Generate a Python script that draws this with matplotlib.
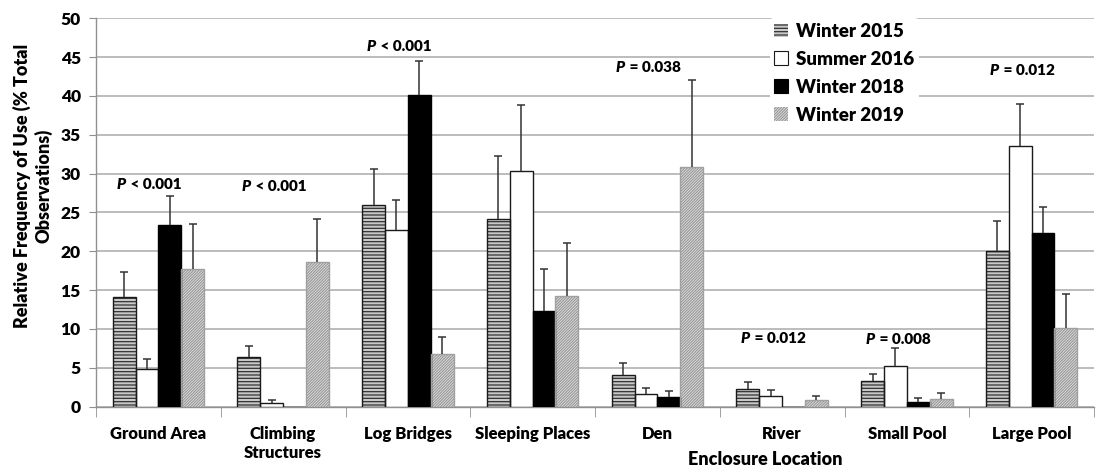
import matplotlib
matplotlib.use("Agg")
import matplotlib.pyplot as plt
from matplotlib.patches import Patch
import numpy as np

categories = ["Ground Area", "Climbing\nStructures", "Log Bridges", "Sleeping Places",
              "Den", "River", "Small Pool", "Large Pool"]
series = ["Winter 2015", "Summer 2016", "Winter 2018", "Winter 2019"]

winter2015 = [14.15, 6.33, 25.9, 24.1, 4.0, 2.3, 3.3, 20.0]
summer2016 = [4.83, 0.5, 22.7, 30.3, 1.6, 1.4, 5.2, 33.5]
winter2018 = [23.35, 0.0, 40.1, 12.35, 1.2, 0.0, 0.6, 22.4]
winter2019 = [17.7, 18.67, 6.7, 14.2, 30.8, 0.84, 0.97, 10.15]

err2015 = [3.15, 1.5, 4.7, 8.1, 1.55, 0.85, 0.9, 3.9]
err2016 = [1.27, 0.4, 3.9, 8.55, 0.8, 0.7, 2.3, 5.5]
err2018 = [3.75, 0.0, 4.4, 5.35, 0.75, 0.0, 0.5, 3.35]
err2019 = [5.8, 5.43, 2.2, 6.8, 11.2, 0.46, 0.73, 4.3]

p_labels = ["< 0.001", "< 0.001", "< 0.001", None, "= 0.038", "= 0.012", "= 0.008", "= 0.012"]
p_heights = [28.6, 28.3, 46.4, None, 43.7, 8.7, 8.65, 43.3]

FW = 'heavy'
plt.rcParams['font.family'] = ['Lato', 'DejaVu Sans']
plt.rcParams['font.weight'] = FW
plt.rcParams['hatch.linewidth'] = 0.9

fig = plt.figure(figsize=(10.97, 4.69), dpi=100)
ax = fig.add_axes([96/1097, 1-406.5/469, 998/1097, 388.2/469])

x = np.arange(len(categories))
w = 0.183
offsets = np.array([-1.5, -0.5, 0.5, 1.5]) * w

styles = [
    dict(face='#c8c8c8', hatch='-----', hcol='#333333', edge='#1a1a1a'),
    dict(face='white', hatch=None, hcol='white', edge='#1a1a1a'),
    dict(face='black', hatch=None, hcol='black', edge='black'),
    dict(face='#e8e8e8', hatch='////////////', hcol='#9a9a9a', edge='#a0a0a0'),
]
values = [winter2015, summer2016, winter2018, winter2019]
errs = [err2015, err2016, err2018, err2019]

handles = []
for i, (vals, st) in enumerate(zip(values, styles)):
    xs = x + offsets[i]
    ax.bar(xs, vals, width=w, color=st['face'], edgecolor=st['hcol'],
           hatch=st['hatch'], linewidth=0, zorder=3)
    ax.bar(xs, vals, width=w, fill=False, edgecolor=st['edge'], linewidth=1.0, zorder=4)
    handles.append(Patch(facecolor=st['face'], edgecolor=st['hcol'] if st['hatch'] else st['edge'],
                         hatch=st['hatch'], linewidth=0.8 if st['hatch'] is None else 0.0))
    e = np.array(errs[i])
    v = np.array(vals)
    mask = e > 0
    ax.vlines(xs[mask], v[mask], v[mask] + e[mask], color='#333333', lw=1.1, zorder=5)
    ax.hlines(v[mask] + e[mask], xs[mask] - 0.032, xs[mask] + 0.032, color='#333333', lw=1.1, zorder=5)

ax.set_xlim(-0.5, len(categories) - 0.5)
ax.set_ylim(0, 50)
ax.set_yticks(np.arange(0, 51, 5))
ax.yaxis.grid(True, color='#b0b0b0', lw=1.2, zorder=0)
ax.set_axisbelow(True)
ax.tick_params(axis='y', length=5, color='#909090', labelsize=12.5, pad=6)
ax.set_xticks(x)
ax.set_xticklabels(categories, fontsize=12, fontweight=FW)
ax.tick_params(axis='x', length=0, pad=14)
ax.set_xticks(np.arange(-0.5, len(categories), 1), minor=True)
ax.tick_params(axis='x', which='minor', length=7, color='#909090')
for lbl in ax.get_yticklabels():
    lbl.set_fontweight(FW)
for s in ['top', 'right']:
    ax.spines[s].set_visible(False)
for s in ['left', 'bottom']:
    ax.spines[s].set_color('#909090')
    ax.spines[s].set_linewidth(1.0)

for i, (lab, h) in enumerate(zip(p_labels, p_heights)):
    if lab is None:
        continue
    ax.text(i - 0.335, h, 'P', fontsize=11, fontweight=FW, fontstyle='italic',
            ha='left', va='center', zorder=6)
    ax.annotate(' ' + lab, xy=(i - 0.335, h), xytext=(7.5, 0), textcoords='offset points',
                fontsize=11, fontweight=FW, ha='left', va='center', zorder=6)

leg = ax.legend(handles, series, loc='upper left', bbox_to_anchor=(0.675, 1.0),
                frameon=True, handlelength=0.75, handleheight=0.75,
                handletextpad=0.4, labelspacing=0.58, borderpad=0.25, borderaxespad=0,
                prop=dict(weight=FW, size=13.5))
leg.get_frame().set_facecolor('white')
leg.get_frame().set_edgecolor('none')
leg.get_frame().set_alpha(1)
leg.set_zorder(7)

fig.text(765/1097, 1 - 459/469, 'Enclosure Location', ha='center', va='center',
         fontsize=13, fontweight=FW)
fig.text(33/1097, 1 - 186/469, 'Relative Frequency of Use (% Total\nObservations)',
         rotation=90, ha='center', va='center', multialignment='center',
         fontsize=13, fontweight=FW, linespacing=1.2)

fig.savefig('out.png', dpi=100)
